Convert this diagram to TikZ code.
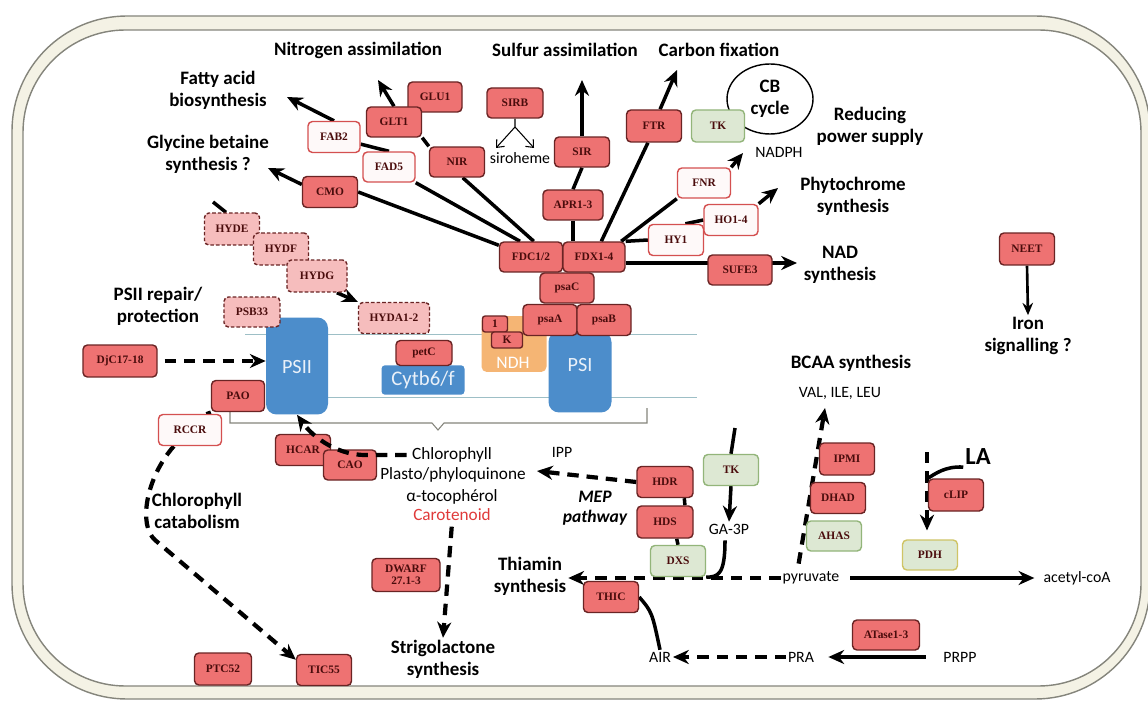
\documentclass[tikz,border=0pt]{standalone}
\usepackage{fontspec}
\setmainfont{Carlito}
\newfontfamily\boxfont{Liberation Serif}
\usetikzlibrary{arrows.meta,shapes.geometric,calc,positioning}
\pgfdeclarelayer{bg}
\pgfsetlayers{bg,main}

\definecolor{boxred}{HTML}{EE7272}
\definecolor{boxline}{HTML}{6A2424}
\definecolor{boxtext}{HTML}{4A0C0C}
\definecolor{pinkfill}{HTML}{F6BDBD}
\definecolor{whitered}{HTML}{D45050}
\definecolor{greenfill}{HTML}{DDE8D3}
\definecolor{greenline}{HTML}{93B57A}
\definecolor{pdhline}{HTML}{CFC466}
\definecolor{psblue}{HTML}{4C8DCB}
\definecolor{ndhorange}{HTML}{F5B574}
\definecolor{membraneblue}{HTML}{9DBFC6}
\definecolor{band}{HTML}{F4F2E5}
\definecolor{bandline}{HTML}{85857C}
\definecolor{carotred}{HTML}{E03A3A}

\begin{document}
\begin{tikzpicture}[x=0.02cm, y=-0.02cm, >={Stealth[length=9pt,width=8pt]},
    enzyme/.style={rectangle, rounded corners=2.5pt, line width=0.8pt,
        minimum width=1.1cm, minimum height=0.62cm, inner sep=1pt,
        font={\boxfont\bfseries\fontsize{6.5}{7}\selectfont}, text=boxtext},
    redbox/.style={enzyme, fill=boxred, draw=boxline},
    whitebox/.style={enzyme, fill=white!96!boxred, draw=whitered},
    hydbox/.style={enzyme, fill=pinkfill, draw=boxline, dash pattern=on 2pt off 1.2pt},
    greenbox/.style={enzyme, fill=greenfill, draw=greenline},
    complex/.style={rectangle, rounded corners=6pt, fill=psblue},
    cpxtext/.style={text=psblue!12, font=\fontsize{11.5}{12}\selectfont, inner sep=1pt},
    headline/.style={font=\bfseries\fontsize{10.8}{12.5}\selectfont, align=center, inner sep=1pt},
    chem/.style={font=\fontsize{9}{11}\selectfont, inner sep=1pt},
    compound/.style={font=\fontsize{9.8}{11}\selectfont, inner sep=1pt},
    flow/.style={line width=2pt},
    dflow/.style={line width=2.4pt, dash pattern=on 6.5pt off 4.5pt},
    fork/.style={line width=0.6pt, -{Straight Barb[length=3.5pt,width=6pt]}},
    membrane/.style={draw=membraneblue, line width=0.5pt}]

    \useasboundingbox (0,0) rectangle (1148,702);

    % chloroplast envelope and thylakoid membrane
    \begin{pgfonlayer}{bg}
    \filldraw[fill=band, draw=bandline, line width=0.8pt, rounded corners=2.3cm] (12,16) rectangle (1150,699);
    \filldraw[fill=white, draw=bandline, line width=0.8pt, rounded corners=2.05cm] (23,30) rectangle (1141,686);
    \draw[membrane] (245,334) -- (697,334);
    \draw[membrane] (328,397) -- (697,397);
    \draw[bandline, line width=0.6pt] (230,411) -- (230,423) -- (432,423) -- (438,430) -- (444,423) -- (647,423) -- (647,408);
    \end{pgfonlayer}

    % Complexes
    \node [complex, minimum width=1.24cm, minimum height=1.94cm] (PSII) at (297,366) {};
    \node [cpxtext]                      (psiilabel) at (297,367) {PSII};
    \node [complex, minimum width=1.26cm, minimum height=1.62cm] (PSI) at (580,372) {};
    \node [cpxtext]                      (psilabel)  at (580,365) {PSI};
    \node [complex, rounded corners=2pt, minimum width=1.66cm, minimum height=0.5cm,
           text=psblue!12, font=\fontsize{11.8}{12}\selectfont] (Cytb) at (423,380) {Cytb6/f};
    \node [rectangle, rounded corners=3pt, fill=ndhorange, minimum width=1.3cm, minimum height=1.12cm] (NDH) at (514,344) {};
    \node [text=white, font=\fontsize{10}{10}\selectfont, inner sep=1pt] (ndhlabel) at (513,363) {NDH};

    % Nodes {electron chain}
    \node [redbox, minimum width=1.12cm, minimum height=0.5cm] (petC) at (424,353) {petC};
    \node [redbox, minimum width=1.08cm]                       (psaA) at (550,320) {psaA};
    \node [redbox, minimum width=1.08cm]                       (psaB) at (604,320) {psaB};
    \node [redbox, minimum width=1.08cm, minimum height=0.6cm] (psaC) at (567,288) {psaC};
    \node [redbox, minimum width=0.5cm, minimum height=0.32cm, rounded corners=1.5pt]  (NDHone) at (495,324) {1};
    \node [redbox, minimum width=0.62cm, minimum height=0.32cm, rounded corners=1.5pt] (NDHK)   at (507,340) {K};
    \node [redbox, minimum width=1.26cm, minimum height=0.6cm] (FDC)  at (531,257) {FDC1/2};
    \node [redbox, minimum width=1.24cm, minimum height=0.6cm] (FDX)  at (594,257) {FDX1-4};

    % Nodes {ferredoxin partners}
    \node [redbox, minimum width=1.08cm, minimum height=0.6cm] (GLU1)  at (435,97)  {GLU1};
    \node [redbox, minimum height=0.6cm]                       (GLT1)  at (394,122) {GLT1};
    \node [redbox, minimum height=0.6cm]                       (NIR)   at (457,162) {NIR};
    \node [redbox, minimum width=1.12cm, minimum height=0.6cm] (SIRB)  at (515,103) {SIRB};
    \node [redbox, minimum height=0.6cm]                       (SIR)   at (582,152) {SIR};
    \node [redbox, minimum width=1.2cm, minimum height=0.6cm]  (APR)   at (573,205) {APR1-3};
    \node [redbox, minimum height=0.64cm]                      (FTR)   at (654,126) {FTR};
    \node [redbox]                                             (CMO)   at (330,192) {CMO};
    \node [whitebox, minimum width=1.04cm]                     (FAB2)  at (334,137) {FAB2};
    \node [whitebox, minimum width=1.04cm, minimum height=0.6cm] (FAD5) at (389,167) {FAD5};
    \node [whitebox, minimum width=1.06cm, minimum height=0.6cm] (FNR)  at (704,183) {FNR};
    \node [whitebox, minimum width=1.08cm]                     (HO14)  at (731,220) {HO1-4};
    \node [whitebox]                                           (HY1)   at (676,240) {HY1};
    \node [redbox, minimum width=1.28cm, minimum height=0.6cm] (SUFE3) at (740,270) {SUFE3};
    \node [ellipse, draw, line width=0.8pt, minimum width=1.72cm, minimum height=1.4cm, headline] (CB) at (770,99) {CB\\cycle};
    \node [greenbox, minimum width=1.06cm, minimum height=0.64cm] (TKa) at (718,126) {TK};

    % Nodes {PSII side}
    \node [hydbox, minimum height=0.64cm]                      (HYDE)  at (232,229) {HYDE};
    \node [hydbox, minimum height=0.64cm]                      (HYDF)  at (281,249) {HYDF};
    \node [hydbox, minimum width=1.2cm, minimum height=0.64cm] (HYDG)  at (317,276) {HYDG};
    \node [hydbox, minimum width=1.42cm]                       (HYDA)  at (394,318) {HYDA1-2};
    \node [hydbox, minimum width=1.12cm, minimum height=0.6cm] (PSB33) at (252,312) {PSB33};
    \node [redbox, minimum width=1.48cm, minimum height=0.64cm] (DjC)  at (120,361) {DjC17-18};
    \node [redbox, minimum width=1.06cm]                       (PAO)   at (238,396) {PAO};
    \node [whitebox, minimum width=1.26cm]                     (RCCR)  at (190,430) {RCCR};
    \node [redbox]                                             (HCAR)  at (303,450) {HCAR};
    \node [redbox, minimum width=1.06cm, minimum height=0.6cm] (CAO)   at (350,465) {CAO};
    \node [redbox, minimum width=1.14cm, minimum height=0.64cm] (PTC52) at (223,669) {PTC52};
    \node [redbox]                                             (TIC55) at (324,670) {TIC55};

    % Nodes {stroma metabolism}
    \node [redbox, minimum width=1.36cm, minimum height=0.66cm, align=center] (DWARF) at (406,575) {DWARF\\27.1-3};
    \node [redbox, minimum width=1.12cm]                       (HDR)   at (665,482) {HDR};
    \node [redbox, minimum width=1.12cm, minimum height=0.64cm] (HDS)  at (665,522) {HDS};
    \node [greenbox]                                           (DXS)   at (678,561) {DXS};
    \node [greenbox]                                           (TKb)   at (731,470) {TK};
    \node [redbox]                                             (THIC)  at (611,597) {THIC};
    \node [redbox, minimum height=0.64cm]                      (IPMI)  at (847,459) {IPMI};
    \node [redbox]                                             (DHAD)  at (838,498) {DHAD};
    \node [greenbox, minimum height=0.6cm]                     (AHAS)  at (834,536) {AHAS};
    \node [redbox, minimum height=0.64cm]                      (cLIP)  at (956,495) {cLIP};
    \node [greenbox, draw=pdhline, minimum height=0.6cm]       (PDH)   at (930,555) {PDH};
    \node [redbox, minimum width=1.34cm, minimum height=0.6cm] (ATase) at (886,635) {ATase1-3};
    \node [redbox, minimum height=0.64cm]                      (NEET)  at (1027,249) {NEET};

    % Labels
    \node [headline] (nitro)    at (358,50)   {Nitrogen assimilation};
    \node [headline] (sulfur)   at (565,50)   {Sulfur assimilation};
    \node [headline] (carbon)   at (719,50)   {Carbon fixation};
    \node [headline] (fatty)    at (218,90)   {Fatty acid\\biosynthesis};
    \node [headline] (glycine)  at (208,154)  {Glycine betaine\\synthesis ?};
    \node [headline] (reducing) at (870,126)  {Reducing\\power supply};
    \node [headline] (phyto)    at (853,196)  {Phytochrome\\synthesis};
    \node [headline] (nad)      at (840,265)  {NAD\\synthesis};
    \node [headline] (iron)     at (1028,336) {Iron\\signalling ?};
    \node [headline] (bcaa)     at (851,363)  {BCAA synthesis};
    \node [headline] (psiirep)  at (158,306)  {PSII repair/\\protection};
    \node [headline] (chlcat)   at (197,511)  {Chlorophyll\\catabolism};
    \node [headline] (thiamin)  at (530,576)  {Thiamin\\synthesis};
    \node [headline] (strigo)   at (443,659)  {Strigolactone\\synthesis};
    \node [headline, font=\bfseries\itshape\fontsize{10}{11.5}\selectfont] (mep) at (595,508) {MEP\\pathway};
    \node [headline, font=\bfseries\fontsize{14}{14}\selectfont] (la) at (978,457) {LA};

    \node [chem] (siroheme) at (520,158)  {siroheme};
    \node [chem] (nadph)    at (779,152)  {NADPH};
    \node [chem] (val)      at (840,393)  {VAL, ILE, LEU};
    \node [chem] (ipp)      at (562,452)  {IPP};
    \node [chem] (ga3p)     at (729,529)  {GA-3P};
    \node [chem] (air)      at (660,657)  {AIR};
    \node [chem] (pra)      at (801,657)  {PRA};
    \node [chem] (prpp)     at (960,657)  {PRPP};
    \node [chem] (pyr)      at (811,578)  {pyruvate};
    \node [chem] (acoa)     at (1077,578) {acetyl-coA};

    \node [compound] (chl)    at (452,455) {Chlorophyll};
    \node [compound] (plasto) at (453,475) {Plasto/phyloquinone};
    \node [compound] (toco)   at (452,497) {α-tocophérol};
    \node [compound, text=carotred] (carot) at (452,515) {Carotenoid};

    % free ends
    \coordinate (cglyc)   at (268,168);
    \coordinate (cfatty)  at (287,97);
    \coordinate (cnitro)  at (378,80);
    \coordinate (csulfur) at (582,80);
    \coordinate (ccarbon) at (677,70);
    \coordinate (cnadph)  at (743,153);
    \coordinate (cphyto)  at (778,188);
    \coordinate (cnad)    at (797,263);
    \coordinate (sirfork) at (515,127);
    \coordinate (csirl)   at (496,148);
    \coordinate (csirr)   at (534,148);
    \coordinate (chyde)   at (213,202);
    \coordinate (cchl)    at (365,455);
    \coordinate (cbend)   at (155,540);
    \coordinate (cipp)    at (537,471);
    \coordinate (ctk)     at (735,428);
    \coordinate (cbcaa)   at (825,408);
    \coordinate (cla)     at (927,452);

    % Paths
    \begin{pgfonlayer}{bg}
    \draw [flow]     (FDC.160) -- (CMO.east);
    \draw [flow, ->] (CMO.165) -- (cglyc);
    \draw [flow]     (FAD5.south east) -- (FDC.125);
    \draw [flow]     (FAB2.-15) -- (FAD5.north);
    \draw [flow, ->] (FAB2.north) -- (cfatty);
    \draw [flow]     (NIR.-70) -- (FDC.80);
    \draw [flow]     (NIR.north west) -- (GLT1.south east);
    \draw [flow, ->] (GLT1.north) -- (cnitro);
    \draw [fork]     (SIRB.south) -- (sirfork) -- (csirl);
    \draw [fork]     (sirfork) -- (csirr);
    \draw [flow]     (APR.south) -- (APR.south |- FDX.north);
    \draw [flow]     (APR.north) -- (SIR.south);
    \draw [flow, ->] (SIR.north) -- (csulfur);
    \draw [flow]     (FDX.65) -- (FTR.-110);
    \draw [flow, ->] (FTR.70) -- (ccarbon);
    \draw [flow]     (FDX.30) -- (FNR.south west);
    \draw [flow, ->] (FNR.north east) -- (cnadph);
    \draw [flow]     (FDX.north east) -- (HY1.west);
    \draw [flow]     (HY1.60) -- (HO14.west);
    \draw [flow, ->] (HO14.north east) -- (cphyto);
    \draw [flow, ->] ($(FDX.east)+(0,6)$) -- (cnad);
    \draw [line width=1.5pt, -{Stealth[length=7pt,width=6pt]}] (NEET.south) -- (iron.north);

    \draw [flow]     (chyde) -- (HYDE.110);
    \draw [flow, ->] (HYDG.-40) -- (HYDA.north west);
    \draw [dflow, ->, shorten <=4pt] (DjC.east) -- (PSII.west |- DjC.east);
    \draw [flow]     (RCCR.45) -- (PAO.south west);
    \draw [dflow, ->] (RCCR.-135) .. controls (146,478) and (138,525) .. (cbend) -- (TIC55.160);

    \draw [dflow, ->, shorten <=2pt] (carot.south) -- (strigo.north);
    \draw [dflow, ->] (HDR.west) -- (cipp);
    \draw [flow]     (HDR.-40) -- (HDS.40);
    \draw [flow]     (HDS.-55) -- (DXS.north);
    \draw [flow]     (ctk) -- (TKb.north);
    \draw [flow, ->] (TKb.south) -- (ga3p.north);
    \draw [flow]     ($(ga3p.south)+(-4,4)$) .. controls (725,575) and (718,577) .. (DXS.south east);
    \draw [dflow, ->] (pyr.west) -- (thiamin.east |- pyr.west);
    \draw [flow]     (THIC.east) .. controls (652,612) .. (air.north);
    \draw [dflow, ->] (pra.west) -- (air.east);
    \draw [flow, ->, shorten <=9pt, shorten >=7pt] (prpp.west) -- (pra.east);
    \draw [flow, ->, shorten <=5pt, shorten >=4pt] (pyr.east) -- (acoa.west);
    \draw [dflow, ->] ($(pyr.north west)+(18,-6)$) -- (cbcaa);
    \draw [dflow, ->, shorten >=5pt] (cla) -- (cla |- PDH.north);
    \draw [flow]     (la.south west) .. controls (945,466) and (935,474) .. (cLIP.north west);
    \end{pgfonlayer}

    \draw [dflow, ->, shorten <=2pt] (chl.west) -- (cchl) .. controls (340,455) and (315,440) .. (PSII.south);

\end{tikzpicture}
\end{document}
